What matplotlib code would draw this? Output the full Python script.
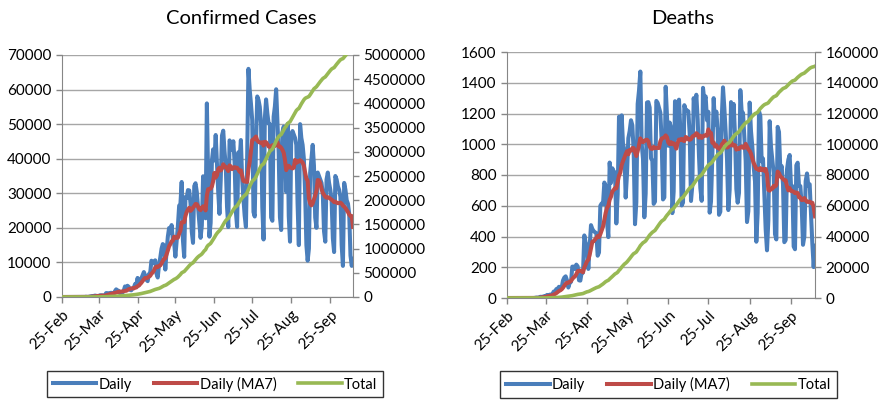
import numpy as np
import pandas as pd
import matplotlib.pyplot as plt
import matplotlib.dates as mdates

plt.rcParams['font.family'] = ['Lato', 'DejaVu Sans']

# one row per week, Tuesday..Monday, starting 25-Feb
dates = pd.date_range("2020-02-25", "2020-10-13")

cases_daily = [
    0, 1, 0, 0, 1, 0, 0,
    0, 1, 0, 5, 6, 6, 6,
    9, 18, 25, 21, 23, 79, 34,
    57, 137, 193, 283, 224, 418, 345,
    310, 232, 482, 502, 487, 352, 323,
    1138, 1119, 1074, 1146, 1222, 852, 926,
    1661, 2210, 1930, 1781, 1089, 1442, 1261,
    1832, 3058, 2105, 3257, 2917, 2055, 1927,
    2498, 2678, 3735, 3503, 5514, 3379, 4613,
    5385, 6276, 7218, 6209, 4970, 4588, 6633,
    6935, 10503, 9888, 10222, 10611, 6760, 5632,
    9258, 11385, 13944, 15305, 14919, 7938, 13140,
    17408, 19951, 18508, 20803, 16508, 15813, 11687,
    16324, 20599, 26417, 26928, 33274, 16409, 11598,
    28936, 28633, 30925, 30830, 27075, 18912, 15654,
    32091, 32913, 30412, 25982, 21704, 17110, 20647,
    34918, 32188, 22765, 56000, 34666, 17459, 21432,
    39436, 42725, 39483, 46860, 38693, 30476, 24052,
    33846, 46712, 48105, 42223, 37923, 26051, 20229,
    45305, 44571, 42619, 45048, 39023, 24831, 20286,
    41857, 39924, 45403, 34177, 28532, 23529, 20257,
    41008, 66000, 59961, 55891, 51147, 24578, 23284,
    44000, 58000, 57000, 55000, 50000, 26000, 16641,
    51603, 57152, 53139, 50230, 49970, 23010, 22048,
    52160, 55155, 60091, 50644, 41576, 23101, 19373,
    47784, 49298, 45323, 30355, 50032, 23421, 16000,
    47134, 48000, 47000, 46000, 44000, 27000, 15000,
    50000, 46000, 44000, 40000, 30000, 15000, 10500,
    14000, 36000, 40000, 44000, 38000, 23000, 20000,
    36000, 35000, 34000, 33000, 30000, 19000, 16000,
    34000, 36000, 33000, 31000, 28000, 17000, 13000,
    35000, 34000, 32000, 31000, 29000, 15000, 9000,
    33000, 31000, 28000, 27000, 24000, 12000, 9000,
    11000,
]

deaths_daily = [
    0, 0, 0, 0, 0, 0, 0,
    0, 0, 0, 0, 0, 0, 0,
    0, 0, 0, 0, 0, 0, 0,
    1, 3, 2, 4, 8, 7, 9,
    12, 11, 20, 15, 22, 22, 23,
    42, 40, 58, 60, 73, 54, 67,
    114, 133, 141, 115, 68, 99, 105,
    204, 204, 188, 217, 206, 115, 113,
    166, 165, 407, 357, 346, 189, 338,
    474, 449, 435, 428, 421, 275, 296,
    600, 615, 610, 751, 730, 496, 396,
    881, 749, 844, 824, 816, 485, 674,
    1179, 888, 1188, 1001, 965, 653, 807,
    1039, 1086, 1156, 1124, 956, 480, 623,
    1262, 1349, 1473, 1005, 904, 525, 679,
    1272, 1274, 1239, 909, 892, 612, 627,
    1282, 1269, 1238, 1206, 1022, 641, 654,
    1374, 1185, 990, 1141, 1109, 552, 692,
    1280, 1038, 1252, 1290, 1091, 602, 620,
    1254, 1223, 1220, 1214, 1071, 631, 733,
    1300, 1233, 1322, 1163, 921, 716, 632,
    1367, 1284, 1311, 1156, 1211, 555, 627,
    921, 1300, 1129, 1212, 1088, 541, 561,
    1154, 1370, 1237, 1079, 905, 572, 703,
    1274, 1175, 1262, 1060, 709, 620, 684,
    1352, 1212, 1204, 1054, 892, 494, 565,
    1271, 1085, 984, 855, 758, 366, 553,
    1215, 1184, 888, 907, 682, 447, 310,
    504, 1150, 983, 899, 814, 415, 381,
    1113, 1080, 829, 858, 739, 363, 377,
    836, 900, 930, 729, 728, 335, 317,
    863, 880, 729, 728, 605, 346, 399,
    760, 810, 730, 740, 542, 354, 201,
    340,
]

tick_dates = pd.to_datetime(["2020-02-25", "2020-03-25", "2020-04-25", "2020-05-25",
                             "2020-06-25", "2020-07-25", "2020-08-25", "2020-09-25"])

BLUE, RED, GREEN = '#4a7ebb', '#be4b48', '#98b954'
GRAY = '#868686'


def panel(rect, daily, left_max, left_step, right_max, right_step, title, title_x, legend_box):
    s = pd.Series(daily, index=dates, dtype=float)
    ma7 = s.rolling(7, min_periods=1).mean()
    total = s.cumsum()

    ax = fig.add_axes(rect)
    ax2 = ax.twinx()

    l1, = ax.plot(dates, s, color=BLUE, lw=2.9, solid_joinstyle='round')
    l2, = ax.plot(dates, ma7, color=RED, lw=2.9)
    l3, = ax2.plot(dates, total, color=GREEN, lw=2.6)

    ax.set_xlim(dates[0], dates[-1])
    ax.set_ylim(0, left_max)
    ax.set_yticks(np.arange(0, left_max + 1, left_step))
    ax2.set_ylim(0, right_max)
    ax2.set_yticks(np.arange(0, right_max + 1, right_step))
    ax2.ticklabel_format(axis='y', style='plain', useOffset=False)
    ax.yaxis.grid(True, color='#a6a6a6', lw=1.0)
    ax.set_axisbelow(True)

    ax.set_xticks(tick_dates)
    ax.xaxis.set_major_formatter(mdates.DateFormatter('%d-%b'))
    plt.setp(ax.get_xticklabels(), rotation=45, ha='right', rotation_mode='anchor')

    for a in (ax, ax2):
        a.spines['top'].set_visible(False)
        for sp in ('left', 'right', 'bottom'):
            a.spines[sp].set_color(GRAY)
        a.tick_params(colors=GRAY, labelcolor='black', labelsize=11, length=4, width=1)
    ax.spines['right'].set_visible(False)
    ax2.spines['left'].set_visible(False)
    ax2.spines['bottom'].set_visible(False)

    fig.text(title_x, 1 - 18 / 401, title, ha='center', va='center', fontsize=14.5)

    x0, y0, x1, y1 = legend_box
    leg = fig.legend([l1, l2, l3], ['Daily', 'Daily (MA7)', 'Total'],
                     loc='center', bbox_to_anchor=((x0 + x1) / 2 / 885, 1 - (y0 + y1) / 2 / 401),
                     ncol=3, fontsize=10.5, frameon=True, fancybox=False,
                     edgecolor='black', handlelength=3.0, handletextpad=0.15,
                     columnspacing=1.5, borderpad=0.4)
    leg.get_frame().set_linewidth(1.0)
    return ax


fig = plt.figure(figsize=(8.85, 4.01), dpi=100)

panel([62 / 885, 1 - 297 / 401, (353 - 62) / 885, (297 - 55) / 401],
      cases_daily, 70000, 10000, 5000000, 500000,
      'Confirmed Cases', 241 / 885, (45, 368, 385, 400))
panel([507 / 885, 1 - 298 / 401, (815 - 507) / 885, (298 - 52) / 401],
      deaths_daily, 1600, 200, 160000, 20000,
      'Deaths', 683 / 885, (498, 369, 839, 400))

plt.savefig('out.png', dpi=100)
